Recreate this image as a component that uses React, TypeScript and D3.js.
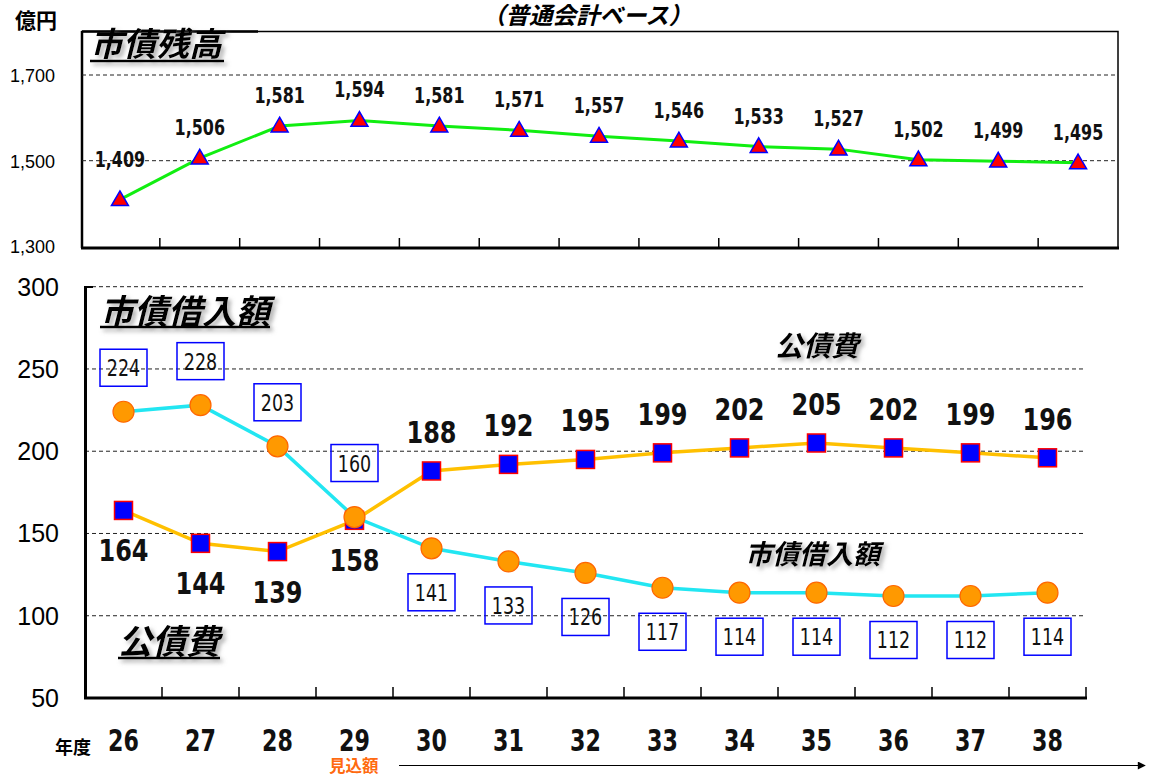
import React from 'react';
import * as d3 from 'd3';

const years = ['26', '27', '28', '29', '30', '31', '32', '33', '34', '35', '36', '37', '38'];
const balance = [1409, 1506, 1581, 1594, 1581, 1571, 1557, 1546, 1533, 1527, 1502, 1499, 1495];
const debtService = [164, 144, 139, 158, 188, 192, 195, 199, 202, 205, 202, 199, 196];
const borrowing = [224, 228, 203, 160, 141, 133, 126, 117, 114, 114, 112, 112, 114];
const topTicks = [1300, 1500, 1700];
const topGrid = [1500, 1700];
const bottomTicks = [50, 100, 150, 200, 250, 300];
const bottomGrid = [100, 150, 200, 250, 300];

const NUM = '"DejaVu Sans", sans-serif';
const AX = '"Liberation Sans", Arial, sans-serif';
const JP = '"Noto Sans CJK JP", sans-serif';

function NumText(props: { x: number; y: number; size: number; sx: number; bold?: boolean; children: any }) {
  const { x, y, size, sx, bold, children } = props;
  return (
    <text
      transform={`translate(${x},${y}) scale(${sx},1)`}
      textAnchor="middle"
      fontFamily={NUM}
      fontWeight={bold ? 'bold' : 'normal'}
      fontSize={size}
      fill="#111"
    >
      {children}
    </text>
  );
}

export default function App() {
  // top panel
  const xT = d3.scaleBand<string>().domain(years).range([80, 1118]);
  const yT = d3.scaleLinear().domain([1300, 1700]).range([246.4, 75]);
  const tx = (i: number) => xT(years[i])! + xT.bandwidth() / 2;
  const lineT = d3.line<number>().x((_, i) => tx(i)).y((d) => yT(d));
  const tri = d3.symbol().type(d3.symbolTriangle).size(125)();

  // bottom panel
  const xB = d3.scaleBand<string>().domain(years).range([85, 1086]);
  const yB = d3.scaleLinear().domain([50, 300]).range([698, 286.7]);
  const cx = (i: number) => xB(years[i])! + xB.bandwidth() / 2;
  const lineB = d3.line<number>().x((_, i) => cx(i)).y((d) => yB(d));

  const bandEdgesT = years.slice(1).map((y) => xT(y)!);
  const bandEdgesB = years.slice(1).map((y) => xB(y)!).concat([1086]);

  return (
    <svg width={1152} height={776} style={{ position: 'absolute', left: 0, top: 0, background: '#fff' }}>
      <defs>
        <filter id="sh" x="-10%" y="-20%" width="130%" height="160%">
          <feDropShadow dx="3" dy="3" stdDeviation="2" floodColor="#777" floodOpacity="0.6" />
        </filter>
        <marker id="arr" viewBox="0 0 10 10" refX="9" refY="5" markerWidth="10" markerHeight="8" orient="auto" markerUnits="userSpaceOnUse">
          <path d="M0,0 L10,5 L0,10 z" fill="#000" />
        </marker>
      </defs>

      {/* header texts */}
      <text x={15} y={28} fontFamily={JP} fontWeight="bold" fontSize={21}>億円</text>
      <text x={482} y={24} fontFamily={JP} fontWeight="bold" fontStyle="italic" fontSize={23.5}>（普通会計ベース）</text>

      {/* top panel frame */}
      <rect x={82} y={31.5} width={1036} height={216.5} fill="none" stroke="#000" strokeWidth={1.5} />
      <line x1={82} x2={258} y1={31.5} y2={31.5} stroke="#000" strokeWidth={2.5} />
      <line x1={82} x2={82} y1={31} y2={248} stroke="#000" strokeWidth={2.5} />
      <line x1={81} x2={1119} y1={248} y2={248} stroke="#000" strokeWidth={3} />
      {topGrid.map((v) => (
        <line key={v} x1={82} x2={1118} y1={yT(v)} y2={yT(v)} stroke="#222" strokeWidth={1} strokeDasharray="4,3" />
      ))}
      {bandEdgesT.map((x, i) => (
        <line key={i} x1={x} x2={x} y1={248} y2={238} stroke="#000" strokeWidth={1.5} />
      ))}
      {topTicks.map((v) => (
        <text key={v} x={55} y={yT(v) + 7} textAnchor="end" fontFamily={AX} fontSize={18}>
          {d3.format(',')(v)}
        </text>
      ))}
      <g filter="url(#sh)">
        <text x={90} y={56} fontFamily={JP} fontWeight="bold" fontStyle="italic" fontSize={33}>市債残高</text>
        <line x1={90} x2={224} y1={61} y2={61} stroke="#000" strokeWidth={2.5} />
      </g>
      <path d={lineT(balance)!} fill="none" stroke="#11EE11" strokeWidth={3} />
      {balance.map((v, i) => (
        <path key={i} d={tri} transform={`translate(${tx(i)},${yT(v) + 1})`} fill="#FF0000" stroke="#0000FF" strokeWidth={1.5} />
      ))}
      {balance.map((v, i) => (
        <NumText key={i} x={tx(i)} y={yT(v) - (i === 0 ? 33 : 23)} size={21} sx={0.76} bold>
          {d3.format(',')(v)}
        </NumText>
      ))}

      {/* bottom panel */}
      {bottomGrid.map((v) => (
        <line key={v} x1={85} x2={1086} y1={yB(v)} y2={yB(v)} stroke="#222" strokeWidth={1} strokeDasharray="4,3" />
      ))}
      <line x1={85.5} x2={85.5} y1={286} y2={699} stroke="#000" strokeWidth={3} />
      <line x1={84} x2={1087} y1={698} y2={698} stroke="#000" strokeWidth={3} />
      <line x1={85} x2={93} y1={287} y2={287} stroke="#000" strokeWidth={2} />
      {bandEdgesB.map((x, i) => (
        <line key={i} x1={x} x2={x} y1={698} y2={687} stroke="#000" strokeWidth={1.5} />
      ))}
      {bottomTicks.map((v) => (
        <text key={v} x={59} y={yB(v) + 9} textAnchor="end" fontFamily={AX} fontSize={25}>
          {v}
        </text>
      ))}
      {years.map((y, i) => (
        <NumText key={y} x={cx(i)} y={751} size={30} sx={0.74} bold>
          {y}
        </NumText>
      ))}
      <text x={55} y={754} fontFamily={JP} fontWeight="bold" fontSize={18}>年度</text>
      <text x={329} y={772} fontFamily={JP} fontWeight="bold" fontSize={16.5} fill="#FF6A10">見込額</text>
      <line x1={399} x2={1145} y1={765.5} y2={765.5} stroke="#000" strokeWidth={1.2} markerEnd="url(#arr)" />

      <g filter="url(#sh)">
        <text x={100} y={324} fontFamily={JP} fontWeight="bold" fontStyle="italic" fontSize={34}>市債借入額</text>
        <line x1={100} x2={270} y1={327} y2={327} stroke="#000" strokeWidth={2.5} />
        <text x={118} y={654} fontFamily={JP} fontWeight="bold" fontStyle="italic" fontSize={34}>公債費</text>
        <line x1={118} x2={220} y1={658} y2={658} stroke="#000" strokeWidth={2.5} />
        <text x={775} y={356} fontFamily={JP} fontWeight="bold" fontStyle="italic" fontSize={28}>公債費</text>
        <text x={745} y={564} fontFamily={JP} fontWeight="bold" fontStyle="italic" fontSize={27}>市債借入額</text>
      </g>

      <path d={lineB(debtService)!} fill="none" stroke="#FFC000" strokeWidth={3.5} />
      <path d={lineB(borrowing)!} fill="none" stroke="#22E6F2" strokeWidth={3.5} />
      {debtService.map((v, i) => (
        <rect key={i} x={cx(i) - 9} y={yB(v) - 9} width={18} height={18} fill="#0000FF" stroke="#FF0000" strokeWidth={1.5} />
      ))}
      {borrowing.map((v, i) => (
        <circle key={i} cx={cx(i)} cy={yB(v)} r={10.5} fill="#FF9900" stroke="#FF6600" strokeWidth={1.2} />
      ))}
      {debtService.map((v, i) => (
        <NumText key={i} x={cx(i)} y={yB(v) + (i < 4 ? 51 : -28)} size={30} sx={0.8} bold>
          {v}
        </NumText>
      ))}
      {borrowing.map((v, i) => {
        const cy = yB(v) + (i < 4 ? (i === 3 ? -54 : -44) : 44);
        return (
          <g key={i}>
            <rect x={cx(i) - 23.5} y={cy - 18.5} width={47} height={37} fill="none" stroke="#0000FF" strokeWidth={1.5} />
            <NumText x={cx(i)} y={cy + 8.5} size={23} sx={0.76}>
              {v}
            </NumText>
          </g>
        );
      })}
    </svg>
  );
}
